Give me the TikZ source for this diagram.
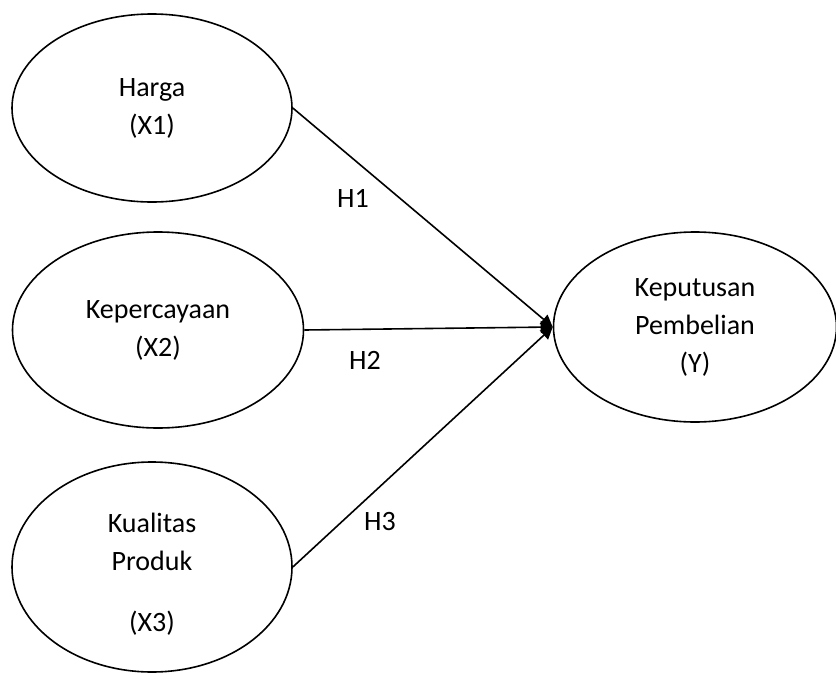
\documentclass[tikz,border=0pt]{standalone}
\usepackage{fontspec}
\setmainfont{Carlito}
\usetikzlibrary{shapes.geometric,arrows.meta}
\tikzset{
    var/.style={draw, ellipse, line width=1.6pt, align=center, inner sep=0pt},
    path/.style={line width=1.6pt, -{Triangle[length=12pt,width=12pt]}},
    hyp/.style={inner sep=0pt}
}

\begin{document}
\begin{tikzpicture}[x=1pt,y=-1pt,font=\fontsize{28}{38}\selectfont]
\useasboundingbox (0,0) rectangle (836,675);
%\draw[step=50pt,gray!30] (0,0) grid (836,675);
\node[var, minimum width=280pt, minimum height=188pt] (x1) at (152,108) {Harga\\(X1)};
\node[var, minimum width=291pt, minimum height=196pt] (x2) at (158,330) {Kepercayaan\\(X2)};
\node[var, minimum width=280pt, minimum height=210pt] (x3) at (152,567) {};
\node[align=center, inner sep=0pt] (x3txt) at (152,574) {Kualitas\\Produk\\[23pt](X3)};
\node[var, minimum width=283pt, minimum height=190pt] (y) at (695,327) {Keputusan\\Pembelian\\(Y)};

\draw[path] (x1.east) -- (y.west);
\draw[path] (x2.east) -- (y.west);
\draw[path] (x3.east) -- (y.west);

\node[hyp] (h1) at (353,198) {H1};
\node[hyp] (h2) at (365,360) {H2};
\node[hyp] (h3) at (380,522) {H3};
\end{tikzpicture}
\end{document}
